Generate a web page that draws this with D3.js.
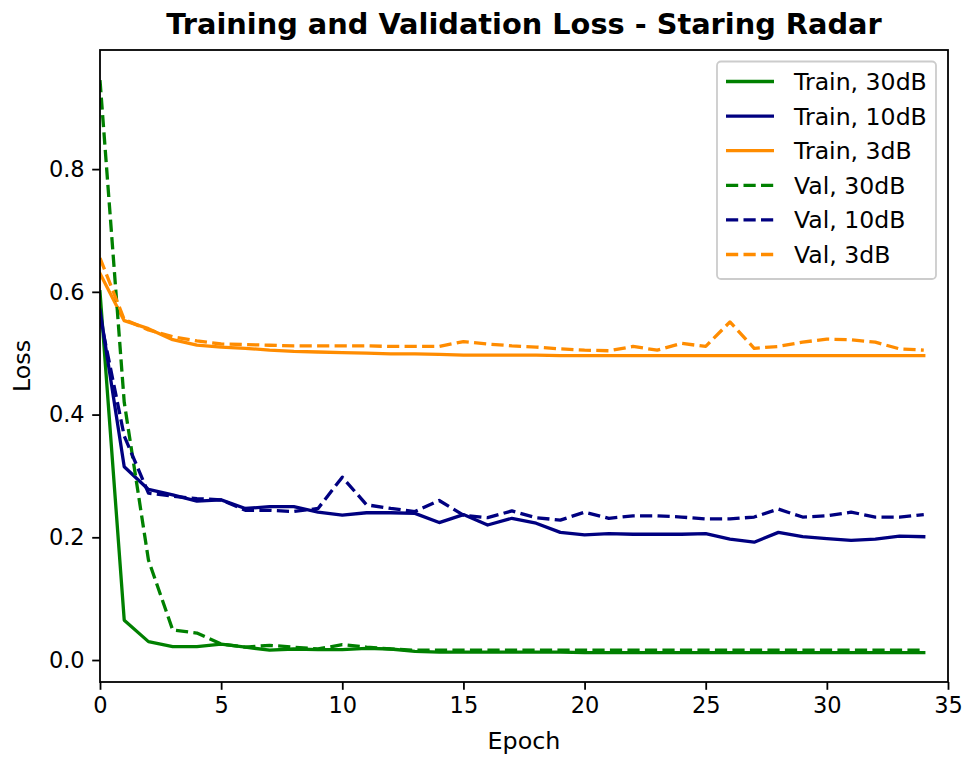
<!DOCTYPE html>
<html>
<head>
<meta charset="utf-8">
<script src="https://cdn.jsdelivr.net/npm/d3@7"></script>
<style>
  html, body { margin: 0; padding: 0; background: #fff; }
  svg { display: block; }
  text { font-family: "DejaVu Sans", sans-serif; fill: #000; }
</style>
</head>
<body>
<svg id="chart" width="966" height="758"></svg>
<script>
const epochs = d3.range(0, 35);

const train30 = [0.60, 0.065, 0.030, 0.022, 0.022, 0.026, 0.021, 0.016, 0.018, 0.017, 0.017, 0.019, 0.018, 0.014, 0.013, 0.013, 0.013, 0.013, 0.013, 0.013, 0.012, 0.012, 0.012, 0.012, 0.012, 0.012, 0.012, 0.012, 0.012, 0.012, 0.012, 0.012, 0.012, 0.012, 0.012];
const train10 = [0.57, 0.315, 0.278, 0.269, 0.259, 0.261, 0.247, 0.250, 0.250, 0.241, 0.236, 0.240, 0.240, 0.239, 0.224, 0.237, 0.220, 0.231, 0.223, 0.208, 0.204, 0.206, 0.205, 0.205, 0.205, 0.206, 0.197, 0.192, 0.208, 0.201, 0.198, 0.195, 0.197, 0.202, 0.201];
const train3 = [0.63, 0.553, 0.540, 0.522, 0.513, 0.510, 0.508, 0.505, 0.503, 0.502, 0.501, 0.500, 0.499, 0.499, 0.498, 0.497, 0.497, 0.497, 0.497, 0.496, 0.496, 0.496, 0.496, 0.496, 0.496, 0.496, 0.496, 0.496, 0.496, 0.496, 0.496, 0.496, 0.496, 0.496, 0.496];
const val30 = [0.945, 0.42, 0.163, 0.049, 0.044, 0.026, 0.021, 0.024, 0.021, 0.018, 0.025, 0.021, 0.018, 0.016, 0.016, 0.016, 0.016, 0.016, 0.016, 0.016, 0.016, 0.016, 0.016, 0.016, 0.016, 0.016, 0.016, 0.016, 0.016, 0.016, 0.016, 0.016, 0.016, 0.016, 0.016];
const val10 = [0.56, 0.365, 0.272, 0.267, 0.263, 0.261, 0.244, 0.244, 0.242, 0.247, 0.298, 0.253, 0.247, 0.242, 0.260, 0.236, 0.232, 0.243, 0.232, 0.228, 0.241, 0.231, 0.235, 0.235, 0.233, 0.230, 0.230, 0.233, 0.246, 0.233, 0.235, 0.241, 0.233, 0.233, 0.237];
const val3 = [0.655, 0.555, 0.538, 0.527, 0.520, 0.515, 0.514, 0.513, 0.512, 0.512, 0.512, 0.512, 0.511, 0.511, 0.511, 0.519, 0.515, 0.512, 0.510, 0.507, 0.505, 0.504, 0.511, 0.505, 0.516, 0.511, 0.551, 0.508, 0.511, 0.518, 0.523, 0.522, 0.518, 0.507, 0.505];

const seriesNames = ["Train, 30dB", "Train, 10dB", "Train, 3dB", "Val, 30dB", "Val, 10dB", "Val, 3dB"];
const seriesValues = [train30, train10, train3, val30, val10, val3];
const seriesColors = ["#008000", "#000080", "#ff8c00", "#008000", "#000080", "#ff8c00"];
const seriesDashed = [false, false, false, true, true, true];

const xTicks = [0, 5, 10, 15, 20, 25, 30, 35];
const yTicks = [0.0, 0.2, 0.4, 0.6, 0.8];

const svg = d3.select("#chart");
const L = 100, R = 948, T = 50, B = 682;
const x = d3.scaleLinear().domain([0, 35]).range([L, R]);
const y = d3.scaleLinear().domain([-0.0358, 0.9941]).range([B, T]);

const lw = 3.3;
const dash = "12.2,5.3";

svg.append("defs").append("clipPath").attr("id", "clip")
  .append("rect").attr("x", L).attr("y", T).attr("width", R - L).attr("height", B - T);

const line = d3.line().x((d, i) => x(epochs[i])).y(d => y(d));
const plot = svg.append("g").attr("clip-path", "url(#clip)");
seriesValues.forEach((vals, k) => {
  plot.append("path")
    .attr("d", line(vals))
    .attr("fill", "none")
    .attr("stroke", seriesColors[k])
    .attr("stroke-width", lw)
    .attr("stroke-linejoin", "round")
    .attr("stroke-linecap", seriesDashed[k] ? "butt" : "square")
    .attr("stroke-dasharray", seriesDashed[k] ? dash : null);
});

const xAxis = d3.axisBottom(x).tickValues(xTicks).tickFormat(d3.format("d")).tickSize(7.8).tickPadding(7.5);
const yAxis = d3.axisLeft(y).tickValues(yTicks).tickFormat(d3.format(".1f")).tickSize(7.8).tickPadding(7.5);

const gx = svg.append("g").attr("transform", `translate(0,${B})`).call(xAxis);
const gy = svg.append("g").attr("transform", `translate(${L},0)`).call(yAxis);
[gx, gy].forEach(g => {
  g.select(".domain").remove();
  g.selectAll(".tick line").attr("stroke", "#000").attr("stroke-width", 1.8);
  g.selectAll(".tick text").style("font-size", "22.5px").attr("fill", "#000");
});

svg.append("rect").attr("x", L).attr("y", T).attr("width", R - L).attr("height", B - T)
  .attr("fill", "none").attr("stroke", "#000").attr("stroke-width", 1.8);

svg.append("text").attr("x", (L + R) / 2).attr("y", 34).attr("text-anchor", "middle")
  .style("font-size", "28.8px").style("font-weight", "bold").text("Training and Validation Loss - Staring Radar");
svg.append("text").attr("x", (L + R) / 2).attr("y", 749).attr("text-anchor", "middle")
  .style("font-size", "23.8px").text("Epoch");
svg.append("text").attr("transform", `translate(30,${(T + B) / 2}) rotate(-90)`).attr("text-anchor", "middle")
  .style("font-size", "23.8px").text("Loss");

const lg = svg.append("g");
lg.append("rect").attr("x", 717).attr("y", 61.5).attr("width", 219).attr("height", 217.5)
  .attr("rx", 4).attr("ry", 4)
  .attr("fill", "#fff").attr("fill-opacity", 0.8).attr("stroke", "#cccccc").attr("stroke-width", 1.8);
seriesNames.forEach((name, k) => {
  const cy = 81.5 + k * 34.6;
  lg.append("line").attr("x1", 726).attr("x2", 774).attr("y1", cy).attr("y2", cy)
    .attr("stroke", seriesColors[k]).attr("stroke-width", lw)
    .attr("stroke-dasharray", seriesDashed[k] ? dash : null);
  lg.append("text").attr("x", 794).attr("y", cy + 8.5).style("font-size", "23.6px").text(name);
});
</script>
</body>
</html>
